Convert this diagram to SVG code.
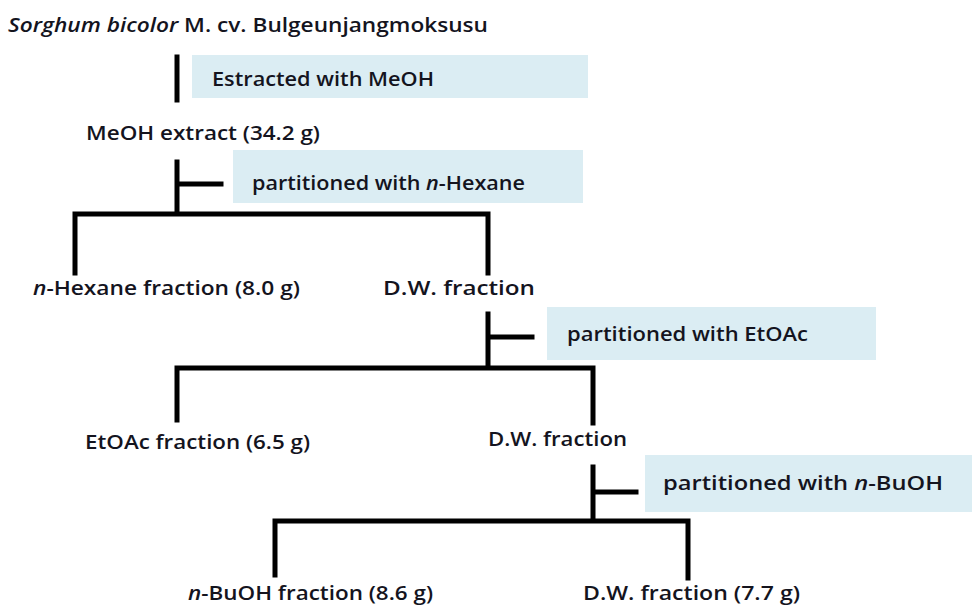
<svg xmlns="http://www.w3.org/2000/svg" width="972" height="606" viewBox="0 0 972 606">
<style>
text{font-family:"Open Sans","Noto Sans","Liberation Sans",sans-serif;font-size:20px;font-weight:600;fill:#14141e}
.box{fill:#dbedf3}
.ln{stroke:#000;stroke-width:5;fill:none;stroke-linecap:square}
</style>
<rect width="972" height="606" fill="#fff"/>
<g id="boxes">
<rect class="box" x="192" y="55" width="396" height="43"/>
<rect class="box" x="233" y="150" width="350" height="53"/>
<rect class="box" x="547" y="307" width="329" height="53"/>
<rect class="box" x="645" y="455" width="327" height="57"/>
</g>
<g id="connectors">
<path class="ln" d="M177 57V100"/>
<path class="ln" d="M177 162V214M177 184H221M75 273V214H488V273"/>
<path class="ln" d="M488 314V368M488 337H532M177 420V368H593V423"/>
<path class="ln" d="M593 467V521M593 492H636M275 575V521H688V578"/>
</g>
<g id="n0"><text x="8" y="32" textLength="480" lengthAdjust="spacingAndGlyphs"><tspan font-style="italic">Sorghum bicolor</tspan> M. cv. Bulgeunjangmoksusu</text></g>
<g id="l0"><text x="212" y="86" textLength="222" lengthAdjust="spacingAndGlyphs">Estracted with MeOH</text></g>
<g id="n1"><text x="86" y="140" textLength="234" lengthAdjust="spacingAndGlyphs">MeOH extract (34.2 g)</text></g>
<g id="l1"><text x="252" y="190" textLength="273" lengthAdjust="spacingAndGlyphs">partitioned with <tspan font-style="italic">n</tspan>-Hexane</text></g>
<g id="n2"><text x="33" y="295" textLength="267" lengthAdjust="spacingAndGlyphs"><tspan font-style="italic">n</tspan>-Hexane fraction (8.0 g)</text></g>
<g id="n3"><text x="383" y="295" textLength="152" lengthAdjust="spacingAndGlyphs">D.W. fraction</text></g>
<g id="l2"><text x="567" y="341" textLength="241" lengthAdjust="spacingAndGlyphs">partitioned with EtOAc</text></g>
<g id="n4"><text x="85" y="449" textLength="225" lengthAdjust="spacingAndGlyphs">EtOAc fraction (6.5 g)</text></g>
<g id="n5"><text x="488" y="446" textLength="139" lengthAdjust="spacingAndGlyphs">D.W. fraction</text></g>
<g id="l3"><text x="663" y="490" textLength="280" lengthAdjust="spacingAndGlyphs">partitioned with <tspan font-style="italic">n</tspan>-BuOH</text></g>
<g id="n6"><text x="188" y="600" textLength="245" lengthAdjust="spacingAndGlyphs"><tspan font-style="italic">n</tspan>-BuOH fraction (8.6 g)</text></g>
<g id="n7"><text x="583" y="600" textLength="217" lengthAdjust="spacingAndGlyphs">D.W. fraction (7.7 g)</text></g>
</svg>
